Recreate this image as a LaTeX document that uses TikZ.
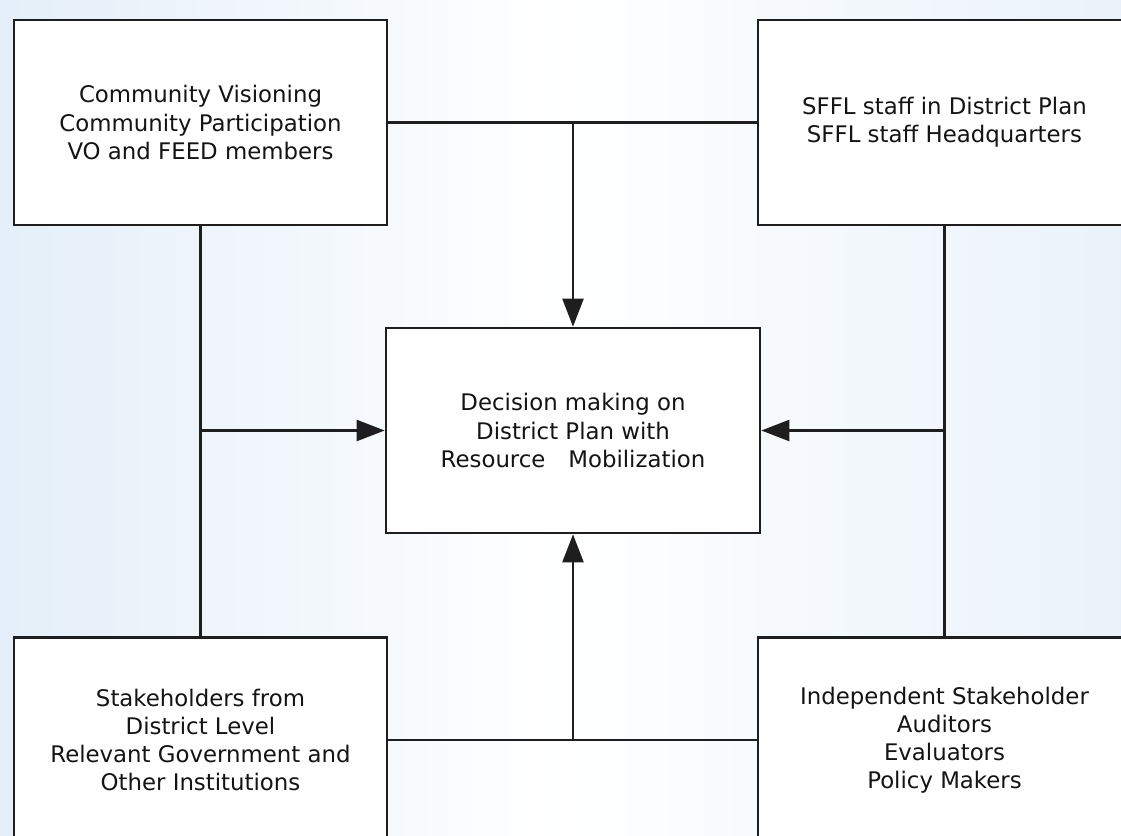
\documentclass[tikz,border=0pt]{standalone}
\usepackage{fontspec}
\setmainfont{DejaVu Sans}
\usepackage{tikz}
\usepackage{xcolor}
\usetikzlibrary{positioning, arrows.meta}

\definecolor{bgblue}{HTML}{E4EFF9}
\definecolor{linegray}{HTML}{1E1E1E}

\begin{document}
\begin{tikzpicture}[
        block/.style={rectangle, draw=linegray, line width=1.5pt, fill=white, minimum width=7.46cm, minimum height=4.1cm, inner sep=0pt, align=center, text=black!92, font=\fontsize{13}{16}\selectfont},
        conn/.style={draw=linegray, line width=1.3pt},
        arr/.style={conn, -{Triangle[length=0.56cm, width=0.42cm]}}
    ]
                    \useasboundingbox (0, 0) rectangle (22.42, -16.7);
                    \clip (0, 0) rectangle (22.42, -16.7);
                    \shade[left color=bgblue, right color=bgblue!80, middle color=white] (0, 0) rectangle (22.42, -16.7);

                    \node[block] (cv) at (4.01, -2.45) {Community Visioning\\Community Participation\\VO and FEED members};
                    \node[block] (sffl) at (18.89, -2.45) {SFFL staff in District Plan\\SFFL staff Headquarters};
                    \node[block, minimum width=7.48cm] (dm) at (11.46, -8.61) {Decision making on\\District Plan with\\Resource\quad Mobilization};
                    \node[block] (sh) at (4.01, -14.8) {Stakeholders from\\District Level\\Relevant Government and\\Other Institutions};
                    \node[block] (isth) at (18.89, -14.8) {Independent Stakeholder\\Auditors\\Evaluators\\Policy Makers};

                    \coordinate (topj) at (dm |- cv);
                    \coordinate (botj) at (dm |- sh);
                    \coordinate (leftj) at (cv |- dm);
                    \coordinate (rightj) at (sffl |- dm);

                    \draw[conn] (cv) -- (sffl);
                    \draw[conn] (sh) -- (isth);
                    \draw[conn] (cv) -- (sh);
                    \draw[conn] (sffl) -- (isth);
                    \draw[arr] (topj) -- (dm);
                    \draw[arr] (botj) -- (dm);
                    \draw[arr] (leftj) -- (dm);
                    \draw[arr] (rightj) -- (dm);
                \end{tikzpicture}
\end{document}
